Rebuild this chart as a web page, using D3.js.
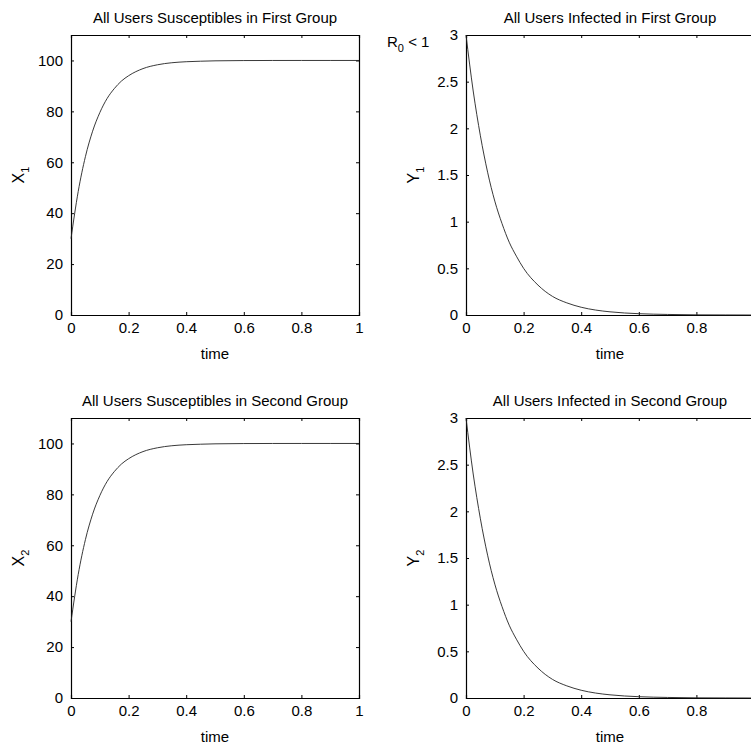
<!DOCTYPE html>
<html>
<head>
<meta charset="utf-8">
<script src="https://cdn.jsdelivr.net/npm/d3@7"></script>
<style>
  body { margin: 0; background: #fff; }
  svg { display: block; font-family: "Liberation Sans", Arial, sans-serif; }
</style>
</head>
<body>
<div id="chart"></div>
<script>
// time samples
const timeValues = [0, 0.025, 0.05, 0.075, 0.1, 0.125, 0.15, 0.175, 0.2, 0.25, 0.3, 0.35, 0.4, 0.45, 0.5, 0.6, 0.7, 0.8, 0.9, 1.0];

// susceptibles (same shape in both groups)
const susceptibleFirst  = [30, 48.5, 62.2, 72.2, 79.5, 85.0, 88.9, 91.9, 94.0, 96.8, 98.3, 99.1, 99.5, 99.7, 99.85, 99.96, 99.99, 100, 100, 100];
const susceptibleSecond = [30, 48.5, 62.2, 72.2, 79.5, 85.0, 88.9, 91.9, 94.0, 96.8, 98.3, 99.1, 99.5, 99.7, 99.85, 99.96, 99.99, 100, 100, 100];

// infected (same shape in both groups)
const infectedFirst  = [3, 2.40, 1.92, 1.53, 1.22, 0.98, 0.78, 0.63, 0.50, 0.32, 0.20, 0.13, 0.083, 0.053, 0.034, 0.014, 0.006, 0.002, 0.001, 0];
const infectedSecond = [3, 2.40, 1.92, 1.53, 1.22, 0.98, 0.78, 0.63, 0.50, 0.32, 0.20, 0.13, 0.083, 0.053, 0.034, 0.014, 0.006, 0.002, 0.001, 0];

const timeTicks = [0, 0.2, 0.4, 0.6, 0.8, 1];
const susceptibleTicks = [0, 20, 40, 60, 80, 100];
const infectedTicks = [0, 0.5, 1, 1.5, 2, 2.5, 3];

const width = 751;
const height = 746;

const svg = d3.select("#chart").append("svg")
    .attr("width", width)
    .attr("height", height)

const panels = [
    { title: "All Users Susceptibles in First Group", label: "X", sub: "1", values: susceptibleFirst,
      yMax: 110, yTicks: susceptibleTicks, left: 71, top: 35 },
    { title: "All Users Infected in First Group", label: "Y", sub: "1", values: infectedFirst,
      yMax: 3, yTicks: infectedTicks, left: 466, top: 35 },
    { title: "All Users Susceptibles in Second Group", label: "X", sub: "2", values: susceptibleSecond,
      yMax: 110, yTicks: susceptibleTicks, left: 71, top: 418 },
    { title: "All Users Infected in Second Group", label: "Y", sub: "2", values: infectedSecond,
      yMax: 3, yTicks: infectedTicks, left: 466, top: 418 }
];

const plotW = 288;
const plotH = 280;

panels.forEach(p => drawPanel(p));

// annotation next to the top right panel
const r0 = svg.append("text")
    .attr("x", 387)
    .attr("y", 47)
    .style("font-size", "15px")
r0.append("tspan").text("R")
r0.append("tspan").attr("dy", 5).style("font-size", "11px").text("0")
r0.append("tspan").attr("dy", -5).text(" < 1")

function drawPanel(p) {
    const g = svg.append("g")
        .attr("transform", `translate(${p.left}, ${p.top})`)

    const x = d3.scaleLinear().domain([0, 1]).range([0, plotW])
    const y = d3.scaleLinear().domain([0, p.yMax]).range([plotH, 0])

    // labels that would land past the window edge are cut off in the original
    const timeFormat = d => (p.left + x(d) + 4 > width ? "" : d3.format("")(d))

    // inward ticks on all four sides, like a boxed plot
    const tick = 3;
    g.append("g")
        .attr("transform", `translate(0, ${plotH})`)
        .call(d3.axisBottom(x).tickValues(timeTicks).tickSize(-tick).tickPadding(7).tickFormat(timeFormat))
    g.append("g")
        .call(d3.axisTop(x).tickValues(timeTicks).tickSize(-tick).tickFormat(""))
    g.append("g")
        .call(d3.axisLeft(y).tickValues(p.yTicks).tickSize(-tick).tickPadding(8).tickFormat(d3.format("")))
    g.append("g")
        .attr("transform", `translate(${plotW}, 0)`)
        .call(d3.axisRight(y).tickValues(p.yTicks).tickSize(-tick).tickFormat(""))

    g.selectAll(".domain").attr("stroke", "#000").attr("stroke-width", 1.2)
    g.selectAll(".tick line").attr("stroke", "#000")
    g.selectAll(".tick text")
        .attr("fill", "#000")
        .style("font-size", "15px")
        .style("font-family", "'Liberation Sans', Arial, sans-serif")

    const line = d3.line()
        .x((d, i) => x(timeValues[i]))
        .y(d => y(d))
        .curve(d3.curveMonotoneX)

    g.append("path")
        .datum(p.values)
        .attr("d", line)
        .attr("fill", "none")
        .attr("stroke", "#222")
        .attr("stroke-width", 0.9)

    g.append("text")
        .attr("x", plotW / 2)
        .attr("y", -12)
        .attr("text-anchor", "middle")
        .style("font-size", "15px")
        .text(p.title)

    g.append("text")
        .attr("x", plotW / 2)
        .attr("y", plotH + 44)
        .attr("text-anchor", "middle")
        .style("font-size", "15px")
        .text("time")

    const yl = g.append("text")
        .attr("transform", `translate(${-47}, ${plotH / 2}) rotate(-90)`)
        .attr("text-anchor", "middle")
        .style("font-size", "16px")
    yl.append("tspan").text(p.label)
    yl.append("tspan").attr("dy", 5).style("font-size", "11px").text(p.sub)
}
</script>
</body>
</html>
